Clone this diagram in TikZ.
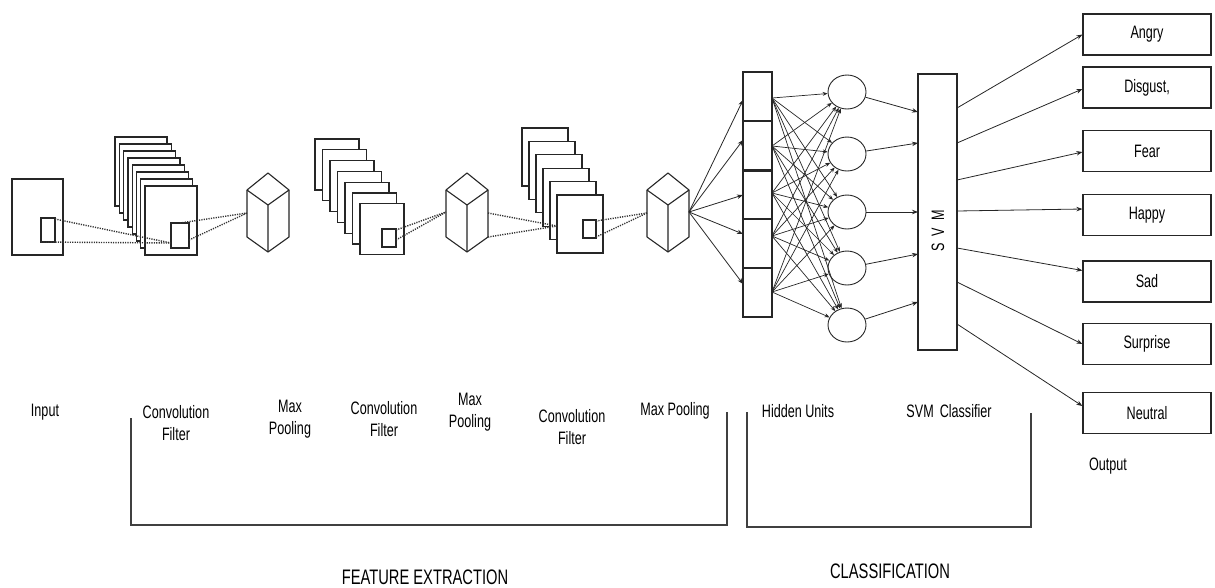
\documentclass[tikz,border=0pt]{standalone}
\usepackage{fontspec}
\setmainfont{Liberation Sans}[FakeStretch=0.7]
\usetikzlibrary{arrows.meta,shapes.geometric}
\begin{document}
\begin{tikzpicture}[x=1pt,y=-1pt,
 lbl/.style={font=\fontsize{18}{22}\selectfont, align=center, inner sep=0pt},
 big/.style={font=\fontsize{21}{24}\selectfont, inner sep=0pt},
 layer/.style={draw=black!85, line width=1.3pt, fill=white},
 dots/.style={line width=1.4pt, dash pattern=on 1.2pt off 1.2pt, draw=black!80},
 arr/.style={draw=black!85, line width=0.8pt, -{Stealth[length=6pt,width=4.5pt]}},
 harr/.style={draw=black!85, line width=0.7pt, -{Stealth[length=5pt,width=4pt]}},
 outbox/.style={draw=black!85, line width=1.2pt, minimum width=128pt, minimum height=41pt, inner sep=0pt, font=\fontsize{18}{20}\selectfont},
 hid/.style={ellipse, draw=black!85, line width=0.9pt, minimum width=38pt, minimum height=34pt, inner sep=0pt},
 cell/.style={draw=black!85, line width=1.2pt, minimum width=29pt, minimum height=49pt, inner sep=0pt},
 brk/.style={draw=black!75, line width=1.2pt},
 pics/cube/.style={code={
   \draw[draw=black!85, line width=1.1pt, fill=white, line join=round] (0,0) -- (21,17) -- (21,64) -- (0,79) -- (-21,64) -- (-21,17) -- cycle;
   \draw[draw=black!85, line width=1.1pt] (-21,17) -- (0,32) -- (21,17) (0,32) -- (0,79);
 }}]
\useasboundingbox (0,0) rectangle (1215,587);

% input
\draw[layer] (12,179) rectangle (63,255);
\draw[layer] (41,218) rectangle (55,242);

% stack 1
\foreach \i in {0,...,7} \draw[layer] ({115+\i*4.3},{137+\i*7}) rectangle ++(52,69);
\draw[layer] (171,223) rectangle (189,248);
% stack 2
\foreach \i in {0,...,6} \draw[layer] ({315+\i*7.5},{139+\i*10.8}) rectangle ++(44,51);
\draw[layer] (382,229) rectangle (396,247);
% stack 3
\foreach \i in {0,...,5} \draw[layer] ({522+\i*7},{128+\i*13.4}) rectangle ++(46,58);
\draw[layer] (583,220) rectangle (596,238);

% cubes
\pic at (268,173) {cube};
\pic at (467,173) {cube};
\pic at (668,173) {cube};

% coordinates for dotted connectors
\coordinate (a1) at (55,219);
\coordinate (a2) at (41,242);
\coordinate (b1) at (171,243);
\coordinate (g1) at (180,223);
\coordinate (g2) at (189,240);
\coordinate (k1) at (247,213);
\coordinate (d1) at (396,230);
\coordinate (d2) at (396,240);
\coordinate (k2l) at (446,212);
\coordinate (k2a) at (488,213);
\coordinate (k2b) at (488,237);
\coordinate (e3) at (557,226);
\coordinate (f1) at (596,221);
\coordinate (f2) at (596,237);
\coordinate (k3l) at (647,213);
\coordinate (k3r) at (689,212);

\draw[dots] (a1) -- (b1);
\draw[dots] (a2) -- (b1);
\draw[dots] (g1) -- (k1);
\draw[dots] (g2) -- (k1);
\draw[dots] (d1) -- (k2l);
\draw[dots] (d2) -- (k2l);
\draw[dots] (k2a) -- (e3);
\draw[dots] (k2b) -- (e3);
\draw[dots] (f1) -- (k3l);
\draw[dots] (f2) -- (k3l);

% column of units
\foreach \i in {1,...,5} \node[cell] (u\i) at (757.5,{96.5+(\i-1)*49}) {};
\draw[line width=2.4pt, black!85] (u2.south west) -- (u2.south east);

% cube -> column
\foreach \i/\y in {1/100,2/140,3/195,4/234,5/284} {
  \coordinate (p\i) at (743,\y);
  \draw[arr] (k3r) -- (p\i);
}

% hidden units
\foreach \i/\y in {1/92,2/154,3/212,4/268,5/325} \node[hid] (h\i) at (847,\y) {};
\foreach \i/\y in {1/98,2/146,3/193,4/236,5/292} \coordinate (q\i) at (772,\y);
\foreach \i in {1,...,5} \foreach \j in {1,...,5} \draw[harr] (q\i) -- (h\j);

% SVM
\node[draw=black!85, line width=1.2pt, minimum width=39pt, minimum height=276pt, inner sep=0pt] (svm) at (937.5,212) {};
\node[lbl, rotate=90] (svmtxt) at (938,231) {S\hspace{7pt}V\hspace{7pt}M};
\foreach \i/\y in {1/112,2/143,3/212,4/254,5/302} {
  \coordinate (s\i) at (918,\y);
  \draw[arr] (h\i) -- (s\i);
}

% outputs
\node[outbox] (angry) at (1147,34.5) {Angry};
\node[outbox] (disgust) at (1147,87.5) {Disgust,};
\node[outbox] (fear) at (1147,151) {Fear};
\node[outbox] (happy) at (1147,215) {Happy};
\node[outbox] (sad) at (1147,281.5) {Sad};
\node[outbox] (surprise) at (1147,344) {Surprise};
\node[outbox] (neutral) at (1147,413) {Neutral};

\foreach \i/\y in {1/108,2/143,3/180,4/211,5/248,6/282,7/324} \coordinate (t\i) at (957,\y);
\draw[arr] (t1) -- (angry.west);
\draw[arr] (t2) -- ([yshift=-1.5pt]disgust.west);
\draw[arr] (t3) -- ([yshift=-1pt]fear.west);
\draw[arr] (t4) -- ([yshift=6pt]happy.west);
\draw[arr] (t5) -- ([yshift=11pt]sad.west);
\draw[arr] (t6) -- (surprise.west);
\draw[arr] (t7) -- ([yshift=7pt]neutral.west);

% labels
\node[lbl] (lin) at (45,412) {Input};
\node[lbl] (lc1) at (176,423) {Convolution\\Filter};
\node[lbl] (lm1) at (290,419) {Max\\Pooling};
\node[lbl] (lc2) at (384,419) {Convolution\\Filter};
\node[lbl] (lm2) at (470,412) {Max\\Pooling};
\node[lbl] (lc3) at (572,427) {Convolution\\Filter};
\node[lbl] (lm3) at (675,411) {Max Pooling};
\node[lbl] (lh) at (798,411) {Hidden Units};
\node[lbl] (ls) at (949,411) {SVM\hspace{6pt}Classifier};
\node[lbl] (lo) at (1108,466) {Output};

% brackets
\draw[brk] (131,418) -- (131,525) -- (727,525) -- (727,412);
\draw[brk] (747,412) -- (747,527) -- (1031,527) -- (1031,413);

\node[big] (lfe) at (425,577) {FEATURE EXTRACTION};
\node[big] (lcl) at (890,571) {CLASSIFICATION};
\end{tikzpicture}
\end{document}
